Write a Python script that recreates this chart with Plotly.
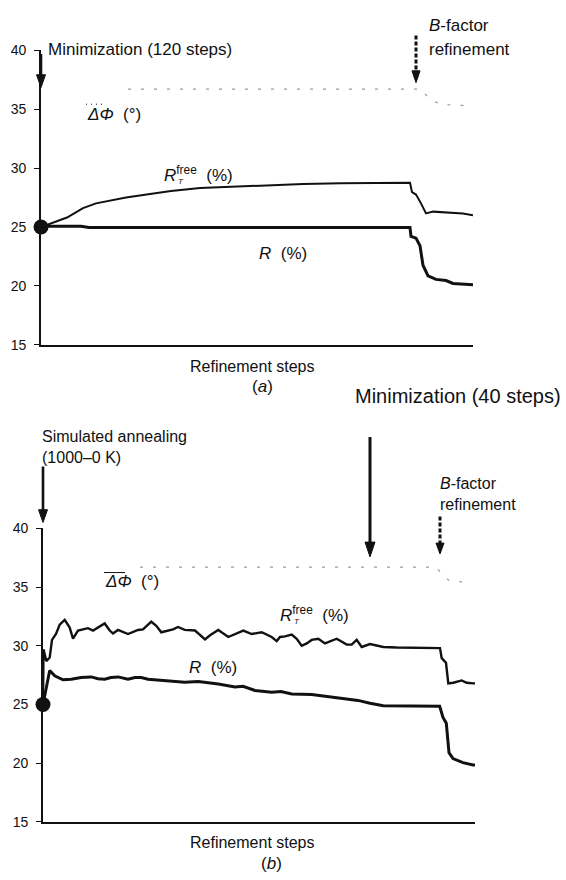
import plotly.graph_objects as go

# ---- panel (a): minimization then B-factor refinement ----
a_rfree_step = [0, 9, 15, 26, 34, 42, 55, 69, 85, 109, 130, 159, 200, 242, 262, 300, 369,
                371, 375, 380, 385, 392, 409, 422, 432]
a_rfree = [25.0, 25.3, 25.5, 25.8, 26.2, 26.6, 27.0, 27.25, 27.5, 27.8, 28.05, 28.3, 28.45, 28.6,
           28.65, 28.7, 28.75, 27.95, 27.75, 27.0, 26.15, 26.3, 26.2, 26.15, 26.0]

a_r_step = [0, 40, 48, 369, 370, 375, 379, 382, 387, 395, 405, 412, 432]
a_r = [25.05, 25.05, 24.95, 24.95, 24.2, 24.05, 23.4, 21.75, 20.85, 20.55, 20.45, 20.2, 20.1]

a_phase_step = [87, 379, 384, 389, 399, 409, 429]
a_phase = [36.7, 36.7, 36.3, 35.8, 35.45, 35.35, 35.3]

# ---- panel (b): simulated annealing, minimization, B-factor refinement ----
b_rfree_step = [0, 0.5, 3.3, 6.7, 9, 13, 16.7, 21.7, 26.7, 30, 35, 45, 50, 55, 61.7, 66.7, 70, 75,
                80, 85, 95, 100, 108.3, 113.3, 118.3, 125, 130, 135, 141.7, 152, 162, 167, 175.3,
                185.3, 192, 200.3, 208.7, 218.7, 228.7, 233.7, 237, 242, 248.7, 253.7, 258.7,
                263.7, 268.7, 275.3, 282, 288.7, 293.7, 303.7, 308.7, 313.7, 318.7, 327, 340.3,
                353.7, 393.7, 397, 398.7, 403, 405.3, 410.3, 418.7, 423.7, 430.3, 432]
b_rfree = [25.0, 29.7, 28.7, 29.0, 30.5, 31.0, 31.8, 32.2, 31.55, 30.6, 31.3, 31.5, 31.3, 31.55,
           31.9, 31.3, 31.05, 31.35, 31.15, 31.0, 31.35, 31.4, 32.05, 31.7, 31.15, 31.3, 31.4,
           31.6, 31.35, 31.3, 30.55, 30.9, 31.35, 30.75, 31.0, 31.3, 31.0, 31.15, 30.75, 30.4,
           30.75, 30.8, 30.95, 30.6, 30.0, 30.2, 30.5, 30.6, 30.2, 30.45, 30.6, 30.1, 30.1,
           30.5, 29.9, 30.15, 29.9, 29.85, 29.85, 29.8, 28.95, 28.55, 26.8, 26.85, 27.05,
           26.85, 26.8, 26.8]

b_r_step = [0, 2.3, 6.7, 11.7, 20, 28.3, 38, 48.3, 55, 61.7, 68, 75, 85, 92, 98.3, 105, 111.7,
            128.3, 141.7, 155.3, 165, 175.3, 192, 200, 212, 228.7, 238, 248.7, 268.7, 288.7,
            303.7, 315, 327, 340.3, 396.7, 400, 403.3, 406, 410, 420, 430, 432]
b_r = [25.0, 25.9, 27.9, 27.45, 27.1, 27.15, 27.3, 27.35, 27.2, 27.15, 27.3, 27.35, 27.15,
       27.3, 27.3, 27.15, 27.1, 27.0, 26.9, 26.95, 26.85, 26.75, 26.5, 26.55, 26.2, 26.05,
       26.1, 25.9, 25.85, 25.65, 25.5, 25.35, 25.1, 24.9, 24.85, 23.9, 23.4, 20.9, 20.4,
       20.05, 19.85, 19.85]

b_phase_step = [97, 393, 400, 407, 427]
b_phase = [36.7, 36.7, 36.0, 35.5, 35.4]

start_step = [0]
start_value = [25.0]

y_ticks = [15, 20, 25, 30, 35, 40]

W, H = 566, 880
FONT = "Liberation Sans, Arial, Helvetica, sans-serif"
INK = "#111111"


def px(x):
    return x / W


def py(y):
    return 1 - y / H


fig = go.Figure()

# panel (a) traces
fig.add_trace(go.Scatter(x=a_phase_step, y=a_phase, mode="lines", xaxis="x", yaxis="y",
                         line=dict(color="#9a9a9a", width=1.2, dash="3px,10px")))
fig.add_trace(go.Scatter(x=a_rfree_step, y=a_rfree, mode="lines", xaxis="x", yaxis="y",
                         line=dict(color=INK, width=2)))
fig.add_trace(go.Scatter(x=a_r_step, y=a_r, mode="lines", xaxis="x", yaxis="y",
                         line=dict(color=INK, width=3)))
fig.add_trace(go.Scatter(x=start_step, y=start_value, mode="markers", xaxis="x", yaxis="y",
                         marker=dict(color=INK, size=15), cliponaxis=False))

# panel (b) traces
fig.add_trace(go.Scatter(x=b_phase_step, y=b_phase, mode="lines", xaxis="x2", yaxis="y2",
                         line=dict(color="#9a9a9a", width=1.2, dash="3px,10px")))
fig.add_trace(go.Scatter(x=b_rfree_step, y=b_rfree, mode="lines", xaxis="x2", yaxis="y2",
                         line=dict(color=INK, width=2.4)))
fig.add_trace(go.Scatter(x=b_r_step, y=b_r, mode="lines", xaxis="x2", yaxis="y2",
                         line=dict(color=INK, width=3)))
fig.add_trace(go.Scatter(x=start_step, y=start_value, mode="markers", xaxis="x2", yaxis="y2",
                         marker=dict(color=INK, size=15), cliponaxis=False))

xax = dict(range=[0, 432], showline=True, linecolor=INK, linewidth=1.6, showgrid=False,
           zeroline=False, showticklabels=False, ticks="")
yax = dict(range=[15, 40], tickvals=y_ticks, showline=True, linecolor=INK, linewidth=1.6,
           showgrid=False, zeroline=False, ticks="outside", ticklen=5, tickwidth=1,
           tickcolor=INK, ticklabelstandoff=5,
           tickfont=dict(family=FONT, size=14, color=INK))

fig.update_layout(
    width=W, height=H, margin=dict(l=0, r=0, t=0, b=0),
    paper_bgcolor="white", plot_bgcolor="white", showlegend=False,
    font=dict(family=FONT, size=16, color=INK),
    xaxis=dict(xax, domain=[px(41), px(473)], anchor="y"),
    yaxis=dict(yax, domain=[py(343), py(43)], anchor="x"),
    xaxis2=dict(xax, domain=[px(43), px(475)], anchor="y2"),
    yaxis2=dict(yax, domain=[py(829), py(530)], anchor="x2"),
)


def label(text, x, y, size=16, anchor="left"):
    fig.add_annotation(text=text, x=px(x), y=py(y), xref="paper", yref="paper",
                       xanchor=anchor, yanchor="middle", align="left", showarrow=False,
                       font=dict(family=FONT, size=size, color=INK))


def arrow(x, tail, tip, width=2.6, head_w=4.5, head_len=13, dash="solid"):
    """Vertical downward arrow: a shaft and a filled triangular head (pixel units)."""
    fig.add_shape(type="line", xref="paper", yref="paper", x0=px(x), x1=px(x),
                  y0=py(tail), y1=py(tip - head_len + 2),
                  line=dict(color=INK, width=width, dash=dash))
    path = (f"M {px(x - head_w)},{py(tip - head_len)} L {px(x + head_w)},{py(tip - head_len)} "
            f"L {px(x)},{py(tip)} Z")
    fig.add_shape(type="path", xref="paper", yref="paper", path=path,
                  fillcolor=INK, line=dict(color=INK, width=1))


def overline(x0, x1, y, dash="solid"):
    fig.add_shape(type="line", xref="paper", yref="paper", x0=px(x0), x1=px(x1),
                  y0=py(y), y1=py(y), line=dict(color=INK, width=1, dash=dash))


# panel (a) annotations
label("Minimization (120 steps)", 46, 42, size=17)
arrow(41, 47, 81)
label("<i>B</i>-factor", 427, 18, size=17)
label("refinement", 427, 42, size=17)
arrow(416, 28, 76, width=3, head_w=4, head_len=12, dash="4px,2px")
label("<i>ΔΦ</i>  (°)", 85, 108, size=17)
overline(86, 104, 98, dash="1px,4px")
label("<i>R</i><sup>free</sup>  (%)", 162, 169, size=17)
label("<i>T</i>", 176, 177, size=8)
label("<i>R</i>  (%)", 257, 250, size=17)
label("Refinement steps", 252, 365, anchor="center")
label("(<i>a</i>)", 262, 386, size=17, anchor="center")

# panel (b) annotations
label("Simulated annealing<br>(1000–0 K)", 40, 447, size=16)
arrow(43, 467, 524)
label("Minimization (40 steps)", 353, 395, size=20)
arrow(370, 437, 559, width=3, head_w=5, head_len=15)
label("<i>B</i>-factor<br>refinement", 438, 495, size=16)
arrow(440, 518, 556, width=3, head_w=4, head_len=11, dash="4px,2px")
label("<i>ΔΦ</i>  (°)", 103, 584, size=17)
overline(104, 125, 575)
label("<i>R</i><sup>free</sup>  (%)", 278, 617, size=17)
label("<i>T</i>", 292, 625, size=8)
label("<i>R</i>  (%)", 187, 672, size=17)
label("Refinement steps", 252, 850, anchor="center")
label("(<i>b</i>)", 271, 871, size=17, anchor="center")

fig.write_html("out.html")
